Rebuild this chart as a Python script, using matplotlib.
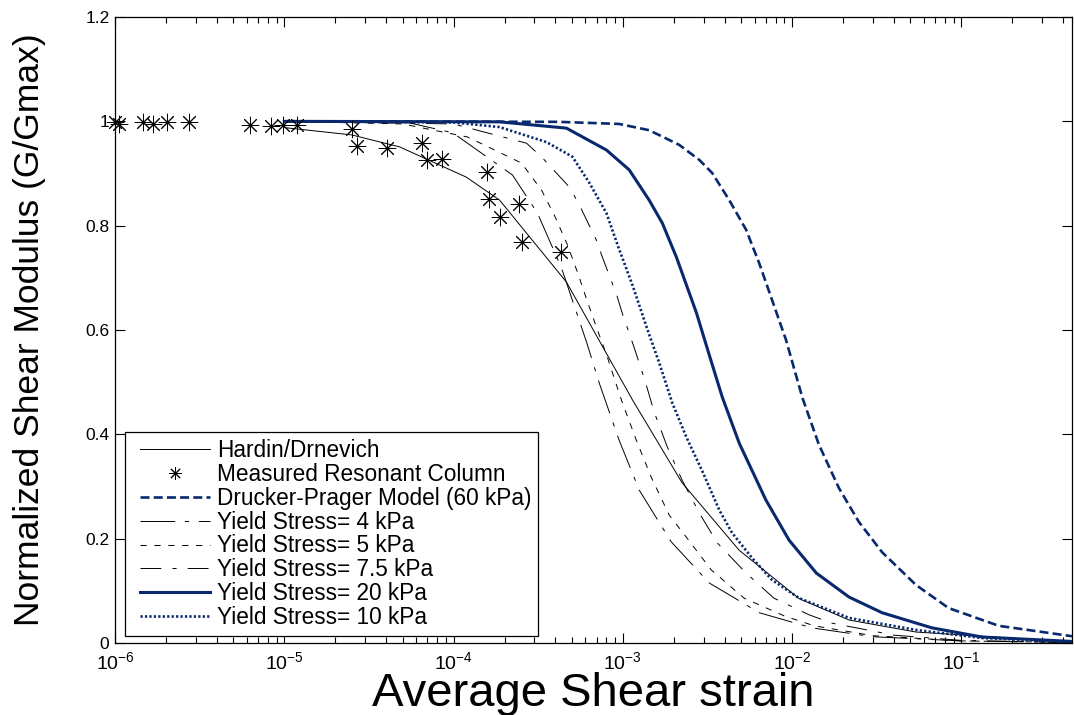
import matplotlib
matplotlib.use("Agg")
import matplotlib.pyplot as plt
from matplotlib.ticker import LogLocator, FixedLocator, FixedFormatter, NullFormatter
from matplotlib.legend_handler import HandlerLine2D

plt.rcParams['font.family'] = ['Liberation Sans', 'DejaVu Sans']
plt.rcParams['lines.scale_dashes'] = False
plt.rcParams['mathtext.fontset'] = 'custom'
plt.rcParams['mathtext.rm'] = 'Liberation Sans'
plt.rcParams['mathtext.it'] = 'Liberation Sans'

NAVY = '#08296e'

# ---------------- data ----------------
strain_hd = [1e-5, 2.5e-5, 4.8e-5, 1.19e-4, 1.87e-4, 4.64e-4, 1.14e-3, 2.24e-3,
             4.86e-3, 1.1e-2, 2.17e-2, 5.4e-2, 0.45]
g_hd = [0.988, 0.974, 0.951, 0.893, 0.849, 0.692, 0.466, 0.307,
        0.178, 0.085, 0.044, 0.021, 0.002]

strain_rc = [1.0e-6, 1.05e-6, 1.46e-6, 1.68e-6, 2.03e-6, 2.73e-6, 6.26e-6, 8.3e-6,
             9.8e-6, 1.19e-5, 2.5e-5, 2.68e-5, 4.03e-5, 6.5e-5, 7.0e-5, 8.5e-5,
             1.57e-4, 1.61e-4, 1.87e-4, 2.45e-4, 2.55e-4, 4.34e-4]
g_rc = [0.998, 0.995, 0.999, 0.995, 0.999, 0.999, 0.993, 0.991,
        0.993, 0.993, 0.985, 0.953, 0.949, 0.958, 0.926, 0.928,
        0.903, 0.851, 0.817, 0.841, 0.769, 0.749]

strain_dp = [1e-5, 4.2e-4, 9.5e-4, 1.43e-3, 2.15e-3, 2.83e-3, 3.37e-3, 4.25e-3,
             5.35e-3, 6.39e-3, 7.62e-3, 9.2e-3, 1.15e-2, 1.44e-2, 1.89e-2, 2.48e-2,
             3.4e-2, 5.4e-2, 8.4e-2, 0.166, 0.45]
g_dp = [1.0, 0.999, 0.995, 0.983, 0.955, 0.926, 0.901, 0.849,
        0.792, 0.728, 0.657, 0.581, 0.470, 0.380, 0.297, 0.232,
        0.174, 0.111, 0.067, 0.033, 0.013]

strain_4 = [1e-5, 5.5e-5, 9.9e-5, 2.23e-4, 3.13e-4, 4.34e-4, 6.1e-4, 7.26e-4,
            9.5e-4, 1.25e-3, 1.93e-3, 3.24e-3, 6.4e-3, 1.31e-2, 3e-2, 0.1, 0.45]
g_4 = [1.0, 0.997, 0.978, 0.897, 0.824, 0.719, 0.577, 0.498,
       0.389, 0.293, 0.194, 0.115, 0.058, 0.029, 0.012, 0.004, 0.001]

strain_5 = [1e-5, 5e-5, 1.21e-4, 2.52e-4, 3.31e-4, 3.94e-4, 4.71e-4, 5.39e-4,
            6.18e-4, 7.08e-4, 8.1e-4, 9.8e-4, 1.2e-3, 1.47e-3, 1.88e-3, 2.37e-3,
            3.33e-3, 5.2e-3, 8.97e-3, 1.35e-2, 3e-2, 0.1, 0.45]
g_5 = [1.0, 0.995, 0.970, 0.920, 0.868, 0.820, 0.763, 0.711,
       0.654, 0.600, 0.548, 0.466, 0.389, 0.318, 0.245, 0.203,
       0.140, 0.086, 0.052, 0.033, 0.014, 0.004, 0.001]

strain_75 = [1e-5, 1.0e-4, 2.7e-4, 3.35e-4, 4.83e-4, 5.53e-4, 6.98e-4, 7.6e-4,
             9.2e-4, 9.9e-4, 1.17e-3, 1.36e-3, 1.53e-3, 1.83e-3, 2.24e-3, 2.83e-3,
             3.61e-3, 5.35e-3, 7.8e-3, 1.26e-2, 1.72e-2, 4e-2, 0.1, 0.45]
g_75 = [1.0, 0.995, 0.958, 0.930, 0.874, 0.840, 0.772, 0.738,
        0.667, 0.633, 0.565, 0.500, 0.443, 0.376, 0.312, 0.249,
        0.192, 0.134, 0.086, 0.054, 0.038, 0.015, 0.005, 0.001]

strain_20 = [1e-5, 1.87e-4, 4.64e-4, 8.0e-4, 1.09e-3, 1.43e-3, 1.71e-3, 2.07e-3,
             2.72e-3, 3.24e-3, 3.86e-3, 4.87e-3, 7.0e-3, 9.6e-3, 1.39e-2, 2.17e-2,
             3.4e-2, 6.7e-2, 0.132, 0.45]
g_20 = [1.0, 0.999, 0.987, 0.945, 0.907, 0.849, 0.805, 0.740,
        0.633, 0.552, 0.472, 0.383, 0.274, 0.197, 0.134, 0.088,
        0.058, 0.029, 0.0115, 0.003]

strain_10 = [1e-5, 1.0e-4, 1.87e-4, 3.55e-4, 5.04e-4, 6.34e-4, 8.0e-4, 9.5e-4,
             1.14e-3, 1.40e-3, 1.64e-3, 1.96e-3, 2.37e-3, 2.96e-3, 3.71e-3, 4.42e-3,
             5.8e-3, 7.6e-3, 1.1e-2, 2.17e-2, 5.4e-2, 0.132, 0.45]
g_10 = [1.0, 0.998, 0.989, 0.960, 0.932, 0.882, 0.824, 0.755,
        0.686, 0.600, 0.537, 0.460, 0.395, 0.328, 0.255, 0.211,
        0.163, 0.121, 0.086, 0.048, 0.025, 0.0096, 0.002]

labels = ['Hardin/Drnevich', 'Measured Resonant Column', 'Drucker-Prager Model (60 kPa)',
          'Yield Stress= 4 kPa', 'Yield Stress= 5 kPa', 'Yield Stress= 7.5 kPa',
          'Yield Stress= 20 kPa', 'Yield Stress= 10 kPa']

ytick_vals = [0, 0.2, 0.4, 0.6, 0.8, 1.0, 1.2]
ytick_labels = ['0', '0.2', '0.4', '0.6', '0.8', '1', '1.2']

# ---------------- figure ----------------
fig = plt.figure(figsize=(10.74, 7.15), dpi=100)
ax = fig.add_axes([115 / 1074, 72 / 715, 957 / 1074, 626 / 715])

h_hd, = ax.plot(strain_hd, g_hd, color='black', lw=0.7, label=labels[0])
h_rc, = ax.plot(strain_rc, g_rc, ls='none', marker=(8, 2, 0), ms=12.5, mew=0.7,
                color='black', label=labels[1], clip_on=False, zorder=5)
h_dp, = ax.plot(strain_dp, g_dp, color=NAVY, lw=1.9, ls=(0, (6.5, 3)), label=labels[2])
h_4, = ax.plot(strain_4, g_4, color='black', lw=0.7, ls=(0, (25, 7, 3, 7)), label=labels[3])
h_5, = ax.plot(strain_5, g_5, color='black', lw=0.7, ls=(0, (4.5, 5.5)), label=labels[4])
h_75, = ax.plot(strain_75, g_75, color='black', lw=0.7, ls=(0, (15, 8, 3, 8)), label=labels[5])
h_20, = ax.plot(strain_20, g_20, color=NAVY, lw=2.2, label=labels[6])
h_10, = ax.plot(strain_10, g_10, color=NAVY, lw=1.9, ls=(0, (1.6, 1.6)), label=labels[7])

ax.set_xscale('log')
ax.set_xlim(1e-6, 0.45)
ax.set_ylim(0, 1.2)

ax.xaxis.set_major_locator(LogLocator(base=10, numticks=20))
ax.xaxis.set_minor_locator(LogLocator(base=10, subs=range(2, 10), numticks=50))
ax.xaxis.set_minor_formatter(NullFormatter())
ax.yaxis.set_major_locator(FixedLocator(ytick_vals))
ax.yaxis.set_major_formatter(FixedFormatter(ytick_labels))

ax.tick_params(which='both', direction='in', top=True, right=True, width=0.8, color='black')
ax.tick_params(which='major', length=7)
ax.tick_params(which='minor', length=4)
ax.tick_params(axis='x', labelsize=14, pad=6)
ax.tick_params(axis='y', labelsize=12.5, pad=4)
for s in ax.spines.values():
    s.set_linewidth(0.9)

ax.set_xlabel('Average Shear strain', fontsize=34, labelpad=-1)
ax.set_ylabel('Normalized Shear Modulus (G/Gmax)', fontsize=25.5, labelpad=28)

hmap = {h: HandlerLine2D(xpad=0.35) for h in [h_hd, h_rc, h_dp, h_4, h_5, h_75, h_20, h_10]}
leg = ax.legend(handles=[h_hd, h_rc, h_dp, h_4, h_5, h_75, h_20, h_10],
                handler_map=hmap,
                loc='lower left', bbox_to_anchor=(0.0104, 0.0112), borderaxespad=0,
                fontsize=16.3, frameon=True, fancybox=False, framealpha=1,
                edgecolor='black', handlelength=3.45, handletextpad=0.3,
                labelspacing=0.04, borderpad=0.3, markerscale=0.75)
leg.get_frame().set_linewidth(0.9)

fig.savefig('out.png', dpi=100)
